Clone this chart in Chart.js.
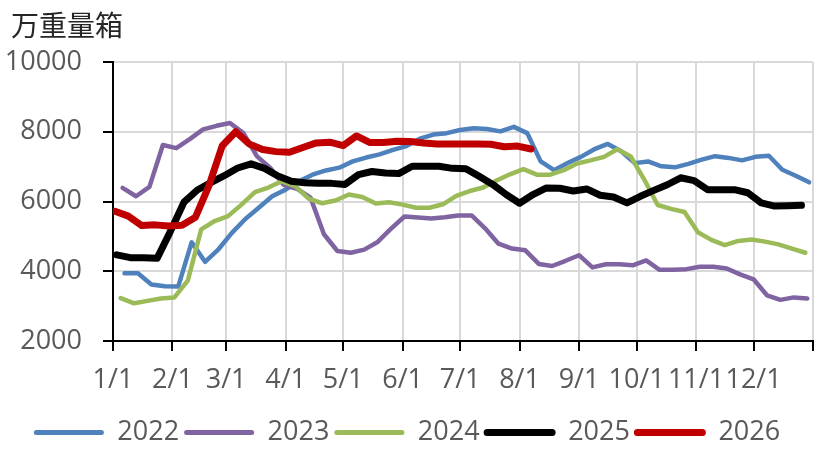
<!DOCTYPE html>
<html><head><meta charset="utf-8">
<script src="https://cdn.jsdelivr.net/npm/chart.js@4.4.1/dist/chart.umd.min.js"></script>
<style>html,body{margin:0;padding:0;background:#fff}#wrap{width:826px;height:452px;position:relative}</style>
</head><body><div id="wrap"><canvas id="c" width="826" height="452"></canvas></div>
<script>
// ---- data ----
const seriesNames = ['2022', '2023', '2024', '2025', '2026'];
const seriesColors = ['#4f81bd', '#8064a2', '#9bbb59', '#000000', '#c00000'];
const seriesWidths = [4.5, 4.5, 4.5, 7, 7];
const startDays = [6, 5, 4, 2, 1]; // day-of-year of the first weekly observation

const v2022 = [3940,3940,3620,3570,3560,4830,4270,4630,5100,5500,5820,6150,6340,6580,6770,6890,6970,7150,7260,7350,7480,7590,7800,7920,7960,8050,8100,8080,8010,8140,7960,7150,6900,7105,7280,7500,7650,7440,7100,7150,7010,6980,7080,7200,7300,7250,7180,7280,7310,6910,6740,6550];
const v2023 = [6390,6150,6420,7620,7530,7790,8070,8170,8250,7960,7300,6960,6480,6360,6110,5060,4580,4530,4620,4840,5220,5570,5540,5510,5550,5600,5600,5230,4790,4650,4600,4210,4150,4300,4460,4110,4200,4200,4170,4310,4040,4040,4060,4130,4130,4080,3910,3770,3310,3180,3250,3220];
const v2024 = [3230,3080,3150,3220,3250,3730,5200,5440,5580,5910,6270,6400,6580,6440,6080,5950,6030,6200,6130,5940,5980,5910,5820,5820,5920,6160,6300,6400,6600,6780,6930,6770,6770,6900,7090,7180,7280,7500,7290,6630,5900,5790,5700,5120,4900,4750,4870,4910,4850,4770,4650,4530];
const v2025 = [4470,4390,4390,4370,5150,5980,6330,6540,6740,6960,7080,6950,6730,6580,6540,6520,6520,6490,6770,6860,6820,6800,7010,7010,7010,6950,6940,6720,6490,6200,5950,6200,6390,6380,6300,6360,6180,6130,5960,6150,6320,6480,6680,6600,6340,6340,6340,6250,5960,5870,5880,5890];
const v2026 = [5720,5580,5310,5330,5295,5320,5550,6450,7600,8000,7650,7490,7430,7410,7550,7680,7700,7600,7880,7690,7690,7730,7720,7680,7650,7650,7650,7650,7640,7570,7590,7505];

const monthTickDays = [0,31,59,90,120,151,181,212,243,273,304,334,365];
const monthTickLabels = ['1/1','2/1','3/1','4/1','5/1','6/1','7/1','8/1','9/1','10/1','11/1','12/1',''];
const yTickValues = [2000, 4000, 6000, 8000, 10000];
const unitTitle = '万重量箱';

// ---- build ----
const allValues = [v2022, v2023, v2024, v2025, v2026];
const datasets = allValues.map((vals, k) => ({
  label: seriesNames[k],
  data: vals.map((y, i) => ({ x: startDays[k] + 7 * i, y })),
  borderColor: seriesColors[k],
  backgroundColor: seriesColors[k],
  borderWidth: seriesWidths[k],
  pointRadius: 0,
  pointHoverRadius: 0,
  tension: 0,
  borderCapStyle: 'round',
  borderJoinStyle: 'round',
  fill: false,
  order: allValues.length - k
}));

const tickFont = { family: '"Open Sans", "Liberation Sans", sans-serif', size: 27 };
const gridOpts = { color: '#d9d9d9', lineWidth: 2, tickColor: '#000', tickLength: 10, tickWidth: 2 };

const titlePlugin = {
  id: 'cornerTitle',
  afterLayout(chart) {
    if (chart.legend) { chart.legend.top += 4; chart.legend.bottom += 4; }
  },
  afterDraw(chart) {
    const ctx = chart.ctx;
    ctx.save();
    ctx.font = '28px "Noto Sans CJK SC", sans-serif';
    ctx.fillStyle = '#262626';
    ctx.textBaseline = 'middle';
    ctx.textAlign = 'left';
    ctx.fillText(unitTitle, 11, 25);
    ctx.restore();
  }
};

new Chart(document.getElementById('c'), {
  type: 'line',
  data: { datasets },
  options: {
    responsive: false,
    animation: false,
    devicePixelRatio: 1,
    layout: { padding: { left: 0, right: 12, top: 62, bottom: 0 } },
    scales: {
      x: {
        type: 'linear', min: 0, max: 365,
        afterBuildTicks(s) { s.ticks = monthTickDays.map(v => ({ value: v })); },
        afterFit(s) { s.height = 69; },
        ticks: {
          autoSkip: false, maxRotation: 0, minRotation: 0, padding: 13,
          color: '#595959', font: tickFont,
          callback(v, i) { return monthTickLabels[i]; }
        },
        grid: gridOpts,
        border: { color: '#000', width: 2 }
      },
      y: {
        min: 2000, max: 10000,
        afterBuildTicks(s) { s.ticks = yTickValues.map(v => ({ value: v })); },
        afterFit(s) { s.width = 113; },
        ticks: { padding: 21, color: '#595959', font: tickFont, callback: v => String(v) },
        grid: gridOpts,
        border: { color: '#000', width: 2 }
      }
    },
    plugins: {
      tooltip: { enabled: false },
      legend: {
        position: 'bottom',
        labels: {
          boxWidth: 70, boxHeight: 5, padding: 5,
          useBorderRadius: true, borderRadius: 2.5,
          color: '#595959',
          font: { family: '"Open Sans", "Liberation Sans", sans-serif', size: 27, lineHeight: 1 },
          generateLabels(chart) {
            return chart.data.datasets.map((d, i) => ({
              text: d.label,
              fillStyle: d.borderColor,
              strokeStyle: d.borderColor,
              lineWidth: d.borderWidth > 5 ? 2 : 0,
              hidden: false,
              datasetIndex: i,
              borderRadius: 2.5,
              fontColor: '#595959'
            }));
          }
        }
      }
    }
  },
  plugins: [titlePlugin]
});
</script>
</body></html>
